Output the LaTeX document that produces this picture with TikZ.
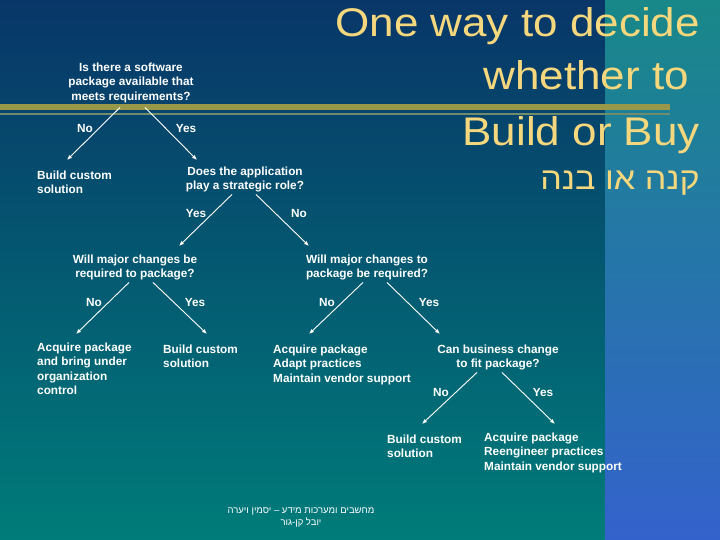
\documentclass[tikz,border=0pt]{standalone}
\usepackage{fontspec}
\setmainfont{Liberation Sans}
\newfontfamily\hebfont[Script=Hebrew]{Liberation Sans}
\newfontfamily\ttlfont[FakeStretch=1.1]{Liberation Sans}
\newfontfamily\hebttlfont[Script=Hebrew,FakeStretch=1.1]{Liberation Sans}
\TeXXeTstate=1
\usetikzlibrary{arrows.meta}
\definecolor{navytop}{RGB}{8,54,104}
\definecolor{tealbot}{RGB}{0,124,122}
\definecolor{paneltop}{RGB}{24,136,136}
\definecolor{panelbot}{RGB}{52,98,204}
\definecolor{olive}{RGB}{152,152,72}
\definecolor{olivethin}{RGB}{112,140,108}
\definecolor{ttlyellow}{RGB}{245,215,125}
\tikzset{
  txt/.style={inner sep=0pt, text=white, font=\fontsize{11.8}{14.4}\selectfont\bfseries},
  ques/.style={txt, align=center, anchor=north},
  leaf/.style={txt, align=left, anchor=north west},
  lbl/.style={txt},
  arr/.style={white, line width=0.9pt, -{Latex[length=5pt,width=4pt]}},
  ttl/.style={inner sep=0pt, text=ttlyellow, anchor=base east, font=\ttlfont\fontsize{40}{48}\selectfont}
}
\begin{document}
\begin{tikzpicture}[x=1pt,y=-1pt]
  \useasboundingbox (0,0) rectangle (720,540);
  % background and side panel
  \shade[top color=navytop, bottom color=tealbot] (0,0) rectangle (605,540);
  \shade[top color=paneltop, bottom color=panelbot] (605,0) rectangle (720,540);
  \fill[olive] (0,104) rectangle (670,110);
  \fill[olivethin] (0,113) rectangle (670,115);
  % title
  \node[ttl] (ttla) at (700,37) {One way to decide};
  \node[ttl] (ttlb) at (689,90) {whether to};
  \node[ttl] (ttlc) at (700,146) {Build or Buy};
  \node[ttl, font=\hebttlfont\fontsize{31}{37}\selectfont] (ttld) at (700,190) {\beginR קנה או בנה\endR};
  % decision tree
  \node[ques] (q1) at (131,62.6) {Is there a software\\package available that\\meets requirements?};
  \node[leaf] (b1) at (37,170.6) {Build custom\\solution};
  \node[ques] (q2) at (245,166.6) {Does the application\\play a strategic role?};
  \node[ques] (q3) at (135,254.6) {Will major changes be\\required to package?};
  \node[ques] (q4) at (367,254.6) {Will major changes to\\package be required?};
  \node[leaf] (b2) at (37,342.6) {Acquire package\\and bring under\\organization\\control};
  \node[leaf] (b3) at (163,344.6) {Build custom\\solution};
  \node[leaf] (b4) at (273,344.6) {Acquire package\\Adapt practices\\Maintain vendor support};
  \node[ques] (q5) at (498,344.6) {Can business change\\to fit package?};
  \node[leaf] (b5) at (387,434.6) {Build custom\\solution};
  \node[leaf] (b6) at (484,432.6) {Acquire package\\Reengineer practices\\Maintain vendor support};
  % branch labels
  \node[lbl] (lno1) at (85,128) {No};
  \node[lbl] (lyes1) at (186,128) {Yes};
  \node[lbl] (lyes2) at (196,213) {Yes};
  \node[lbl] (lno2) at (299,213) {No};
  \node[lbl] (lno3) at (94,302) {No};
  \node[lbl] (lyes3) at (195,302) {Yes};
  \node[lbl] (lno4) at (327,302) {No};
  \node[lbl] (lyes4) at (429,302) {Yes};
  \node[lbl] (lno5) at (441,392) {No};
  \node[lbl] (lyes5) at (543,392) {Yes};
  % branches
  \draw[arr] ([xshift=-11pt,yshift=-4.6pt]q1.south) -- ([xshift=30pt,yshift=10.6pt]b1.north west);
  \draw[arr] ([xshift=14pt,yshift=-4.6pt]q1.south) -- ([xshift=-48pt,yshift=6.6pt]q2.north);
  \draw[arr] ([xshift=-13pt,yshift=-2pt]q2.south) -- ([xshift=44pt,yshift=8.6pt]q3.north);
  \draw[arr] ([xshift=11pt,yshift=-2pt]q2.south) -- ([xshift=-58pt,yshift=8.6pt]q4.north);
  \draw[arr] ([xshift=-6pt,yshift=-2pt]q3.south) -- ([xshift=39pt,yshift=8.6pt]b2.north west);
  \draw[arr] ([xshift=18pt,yshift=-2pt]q3.south) -- ([xshift=44pt,yshift=10.6pt]b3.north west);
  \draw[arr] ([xshift=-4pt,yshift=-2pt]q4.south) -- ([xshift=36pt,yshift=10.6pt]b4.north west);
  \draw[arr] ([xshift=20pt,yshift=-2pt]q4.south) -- ([xshift=-58pt,yshift=10.6pt]q5.north);
  \draw[arr] ([xshift=-21pt,yshift=-2pt]q5.south) -- ([xshift=35pt,yshift=10.6pt]b5.north west);
  \draw[arr] ([xshift=4pt,yshift=-2pt]q5.south) -- ([xshift=71pt,yshift=8.6pt]b6.north west);
  % footer
  \node[inner sep=0pt, text=white, align=center, font=\hebfont\fontsize{9.5}{12}\selectfont] (foot) at (301,517) {\beginR מחשבים ומערכות מידע – יסמין ויערה\endR\\\beginR יובל קן-גור\endR};
\end{tikzpicture}
\end{document}
